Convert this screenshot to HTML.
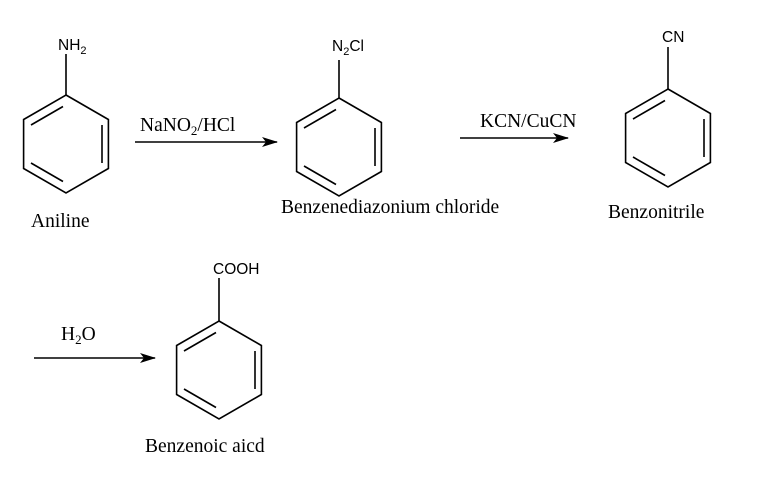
<!DOCTYPE html>
<html><head><style>
html,body{margin:0;padding:0;background:#fff;}
svg{display:block;}
.s{font-family:"Liberation Sans",sans-serif;font-size:15.5px;}
.t{font-family:"Liberation Serif",serif;font-size:19.5px;}
</style></head><body>
<svg width="771" height="492" viewBox="0 0 771 492">
<defs>
<g id="ring" fill="none" stroke="#000" stroke-width="1.6">
<polygon points="0,-49 42.4,-24.5 42.4,24.5 0,49 -42.4,24.5 -42.4,-24.5"/>
<line x1="-35" y1="-19" x2="-3" y2="-37.5"/>
<line x1="36" y1="-19" x2="36" y2="19"/>
<line x1="-35" y1="19" x2="-3" y2="37.5"/>
</g>
<marker id="ah" markerWidth="16" markerHeight="10" refX="15" refY="5" orient="auto" markerUnits="userSpaceOnUse">
<path d="M0,0 L16,5 L0,10 L4,5 Z" fill="#000"/>
</marker>
</defs>

<!-- Aniline -->
<use href="#ring" x="66" y="144"/>
<line x1="66" y1="95" x2="66" y2="54" stroke="#000" stroke-width="1.6"/>
<text class="s" x="58" y="50">NH<tspan font-size="11" dy="4">2</tspan></text>
<text class="t" x="31" y="227">Aniline</text>

<!-- arrow 1 -->
<line x1="135" y1="142" x2="277" y2="142" stroke="#000" stroke-width="1.6" marker-end="url(#ah)"/>
<text class="t" x="140" y="131">NaNO<tspan font-size="13" dy="4">2</tspan><tspan dy="-4">/HCl</tspan></text>

<!-- Diazonium -->
<use href="#ring" x="339" y="147"/>
<line x1="339" y1="98" x2="339" y2="60" stroke="#000" stroke-width="1.6"/>
<text class="s" x="332" y="51">N<tspan font-size="11" dy="4">2</tspan><tspan dy="-4">Cl</tspan></text>
<text class="t" x="281" y="213">Benzenediazonium chloride</text>

<!-- arrow 2 -->
<line x1="460" y1="138" x2="568" y2="138" stroke="#000" stroke-width="1.6" marker-end="url(#ah)"/>
<text class="t" x="480" y="127">KCN/CuCN</text>

<!-- Benzonitrile -->
<use href="#ring" x="668" y="138"/>
<line x1="668" y1="89" x2="668" y2="47" stroke="#000" stroke-width="1.6"/>
<text class="s" x="662" y="42">CN</text>
<text class="t" x="608" y="218">Benzonitrile</text>

<!-- arrow 3 -->
<line x1="34" y1="358" x2="155" y2="358" stroke="#000" stroke-width="1.6" marker-end="url(#ah)"/>
<text class="t" x="61" y="340">H<tspan font-size="13" dy="4">2</tspan><tspan dy="-4">O</tspan></text>

<!-- Benzoic -->
<use href="#ring" x="219" y="370"/>
<line x1="219" y1="321" x2="219" y2="278" stroke="#000" stroke-width="1.6"/>
<text class="s" x="213" y="274">COOH</text>
<text class="t" x="145" y="452">Benzenoic aicd</text>
</svg>
</body></html>
